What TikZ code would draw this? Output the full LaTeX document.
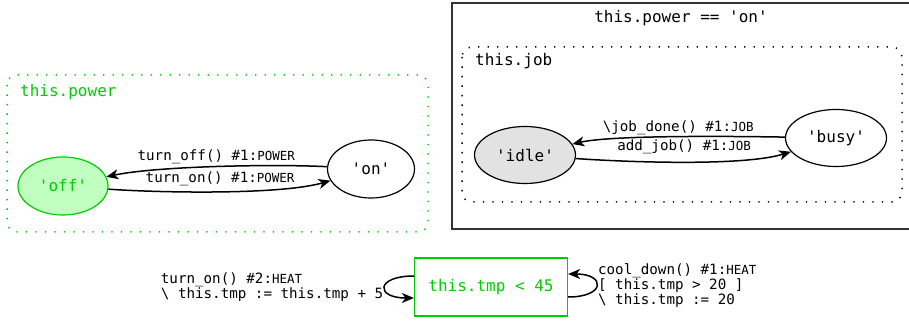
\documentclass[tikz,border=0pt]{standalone}
\usepackage{fontspec}
\setmonofont{DejaVu Sans Mono}
\usetikzlibrary{arrows.meta, shapes, positioning}

\definecolor{stategreen}{RGB}{0,205,0}
\definecolor{offfill}{RGB}{192,255,192}
\definecolor{idlefill}{RGB}{226,226,226}

% event tags after the trigger number
\newcommand{\evt}[1]{{\fontsize{12.5}{12.5}\selectfont #1}}

\begin{document}
\begin{tikzpicture}[x=1pt, y=1pt,
    >={Stealth[length=12pt, width=10pt, inset=3.5pt]},
    state/.style={ellipse, draw, line width=1.2pt, inner sep=0pt,
        minimum width=101pt, minimum height=57pt,
        font=\ttfamily\fontsize{16}{16}\selectfont},
    trans/.style={->, line width=1.5pt},
    lbl/.style={font=\ttfamily\fontsize{14.2}{13.5}\selectfont, inner sep=1pt},
    cluster/.style={rounded corners=10pt, line width=1.5pt,
        dash pattern=on 1.3pt off 8.2pt},
    title/.style={font=\ttfamily\fontsize{16}{16}\selectfont, inner sep=0pt}]
    \useasboundingbox (0,0) rectangle (909,321);

    % regions
    \draw[stategreen, cluster] (7,246) rectangle (428,89);
    \draw[line width=1.4pt, black!80] (915,318) -| (452,92) -- (915,92);
    \draw[cluster] (462,274) rectangle (902,119);

    \node[title, anchor=base west, text=stategreen] (powerlbl) at (20,224) {this.power};
    \node[title, anchor=base] (ontitle) at (681,298) {this.power == 'on'};
    \node[title, anchor=base west] (joblbl) at (475,255) {this.job};

    % states
    \node[state, draw=stategreen, fill=offfill, text=stategreen,
          minimum width=90pt, minimum height=58pt] (off) at (63,135) {'off'};
    \node[state, minimum width=87pt, minimum height=58pt] (on) at (371,152) {'on'};
    \node[state, fill=idlefill] (idle) at (525,166) {'idle'};
    \node[state] (busy) at (836,183) {'busy'};
    \node[draw=stategreen, line width=1.2pt, text=stategreen,
          minimum width=153pt, minimum height=58pt,
          font=\ttfamily\fontsize{16}{16}\selectfont] (tmp) at (491,34) {this.tmp < 45};

    \path[trans] (on)   edge[out=177, in=12, looseness=0.6]
                        node[lbl, above=1pt] {turn\_off() \#1:\evt{POWER}} (off)
                 (off)  edge[out=-4, in=196, looseness=0.6]
                        node[lbl, above=4pt] {turn\_on() \#1:\evt{POWER}} (on)
                 (busy) edge[out=179, in=13, looseness=0.5]
                        node[lbl, above=0pt] {\textbackslash job\_done() \#1:\evt{JOB}} (idle)
                 (idle) edge[out=-4, in=197, looseness=0.6]
                        node[lbl, above=6pt] {add\_job() \#1:\evt{JOB}} (busy);

    % self loops on the temperature
    \path[trans] ([yshift=11pt]tmp.west) edge[out=180, in=180, looseness=4.5]
                        node[lbl, left, align=left]
                        {turn\_on() \#2:\evt{HEAT}\\\textbackslash{} this.tmp := this.tmp + 5}
                        ([yshift=-11pt]tmp.west)
                 ([yshift=-10pt]tmp.east) edge[out=0, in=0, looseness=4.2]
                        node[lbl, right, align=left]
                        {cool\_down() \#1:\evt{HEAT}\\{}[ this.tmp > 20 ]\\\textbackslash{} this.tmp := 20}
                        ([yshift=13pt]tmp.east);
\end{tikzpicture}
\end{document}
